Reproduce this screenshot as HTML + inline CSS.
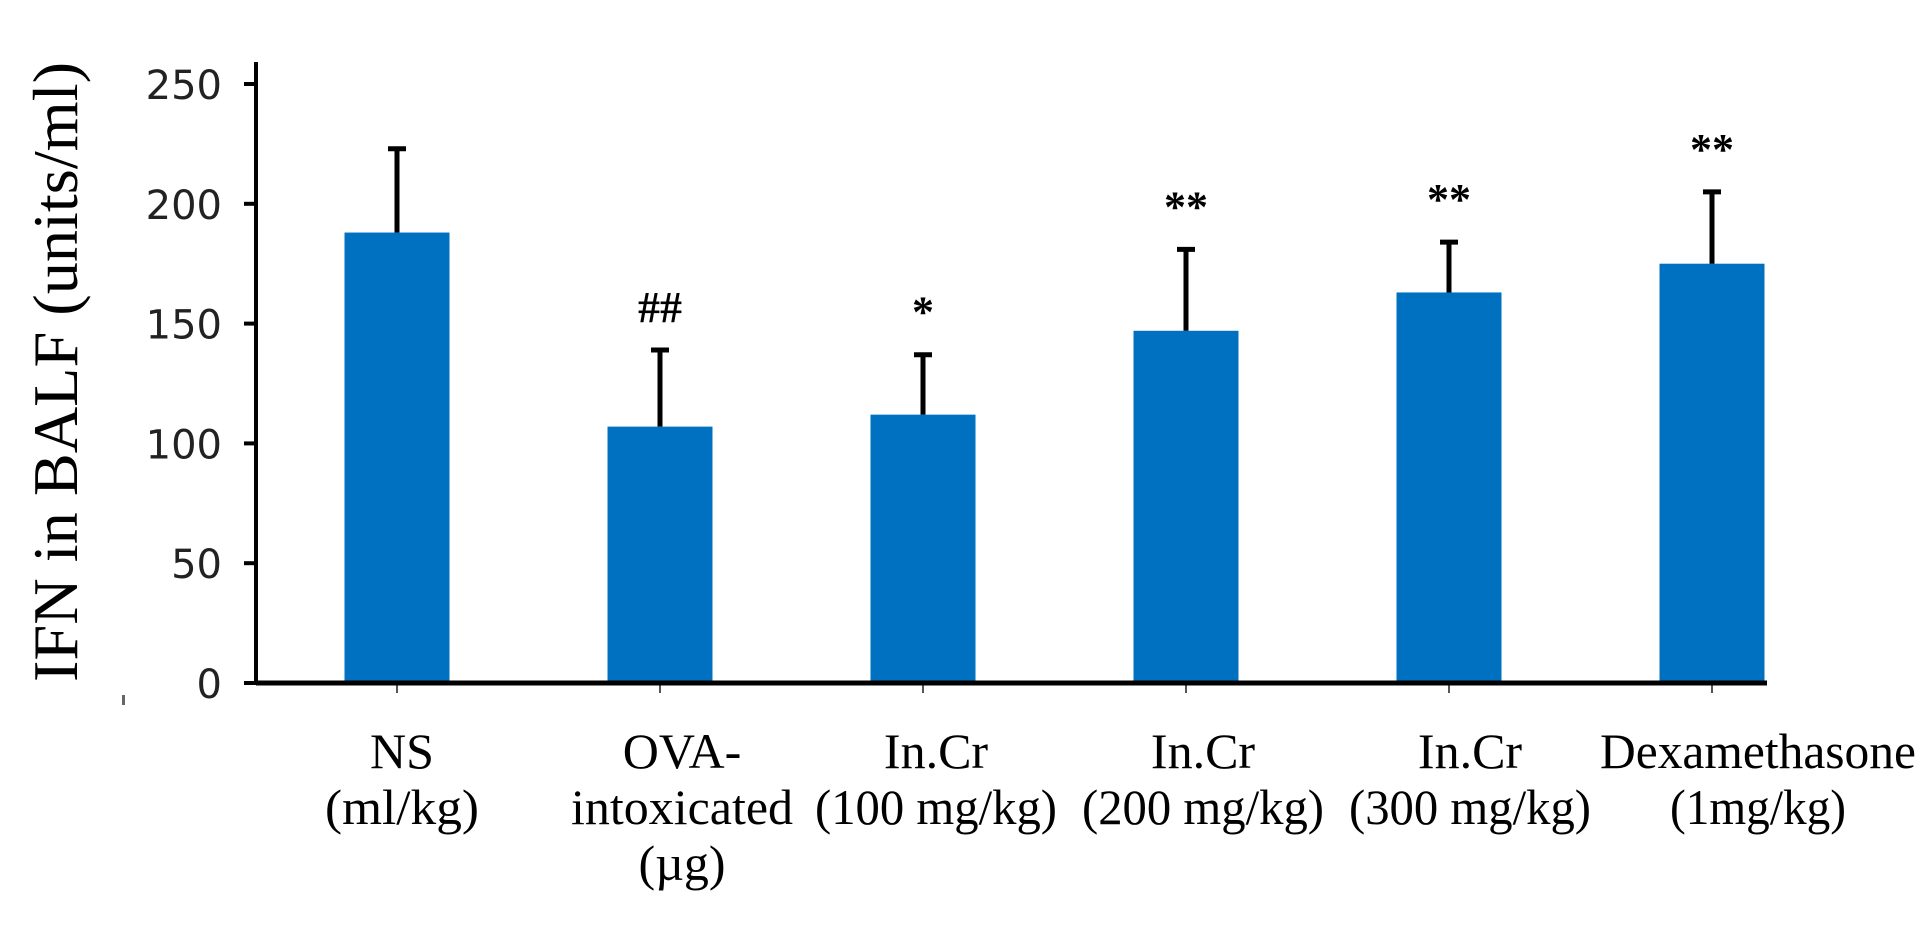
<!DOCTYPE html>
<html><head><meta charset="utf-8"><style>
html,body{margin:0;padding:0;background:#fff;}
svg{display:block;}
</style></head><body>
<svg id="chart" width="1930" height="946" xmlns="http://www.w3.org/2000/svg">
<text transform="translate(77,372) rotate(-90)" text-anchor="middle" font-family="Liberation Serif, serif" font-size="64" textLength="620" lengthAdjust="spacingAndGlyphs" fill="#000">IFN in BALF (units/ml)</text>
<rect x="122" y="695" width="3" height="10" fill="#666"/>
<g id="plot"></g>
</svg>
<script>
const categories = [["NS","(ml/kg)"],["OVA-","intoxicated","(µg)"],["In.Cr","(100 mg/kg)"],["In.Cr","(200 mg/kg)"],["In.Cr","(300 mg/kg)"],["Dexamethasone","(1mg/kg)"]];
const values = [188, 107, 112, 147, 163, 175];
const errors = [35, 32, 25, 34, 21, 30];
const annotations = ["", "##", "*", "**", "**", "**"];
const yTicks = [0, 50, 100, 150, 200, 250];

const NS = "http://www.w3.org/2000/svg";
const g = document.getElementById('plot');
const x0 = 256, x1 = 1767, y0 = 683, yTop = 84;
function yScale(v){ return y0 - (v/250)*(y0-yTop); }
const step = 263, firstCenter = 397;
function xCenter(i){ return firstCenter + i*step; }
function mk(tag, attrs){ const e=document.createElementNS(NS,tag); for(const k in attrs) e.setAttribute(k,attrs[k]); g.appendChild(e); return e; }

let ya = mk('line',{x1:x0,y1:62,x2:x0,y2:y0+2,stroke:'#000','stroke-width':4});


yTicks.forEach(t=>{
  const y=yScale(t);
  const tk=mk('line',{x1:x0-12,y1:y,x2:x0,y2:y,stroke:'#000','stroke-width':4});
  
  
  const lb=mk('text',{x:222,y:y+15,'text-anchor':'end','font-family':'DejaVu Sans, sans-serif','font-size':40,fill:'#222'});
  lb.textContent=t;
  
  
});

const bw = 105;
values.forEach((v,i)=>{
  const cx=xCenter(i);
  const b=mk('rect',{x:cx-bw/2,y:yScale(v),width:bw,height:y0-yScale(v),fill:'#0070C0'});
  
  
  const et=yScale(v+errors[i]);
  const el=mk('line',{x1:cx,y1:yScale(v),x2:cx,y2:et,stroke:'#000','stroke-width':5});
  
  
  const ec=mk('line',{x1:cx-9,y1:et,x2:cx+9,y2:et,stroke:'#000','stroke-width':5});
  
  
  if(annotations[i]){
    const a=mk('text',{x:cx,y:et-28,'text-anchor':'middle','font-family':'Liberation Serif, serif','font-size':44,'font-weight':'bold',fill:'#000'});
    a.textContent=annotations[i];
    
    
  }
  const xt=mk('line',{x1:cx,y1:y0,x2:cx,y2:y0+10,stroke:'#555','stroke-width':2});
  
  
  const lines=categories[i];
  const lx = i===5 ? 1758 : cx + (i===1?22:5+ i*4);
  lines.forEach((s,j)=>{
    const t=mk('text',{x:lx,y:768+j*56,'text-anchor':'middle','font-family':'Liberation Serif, serif','font-size':50,fill:'#000'});
    if(s.length>6){ const w = i===5 && j===0 ? 316 : (i===1&&j===1 ? 222 : Math.min(s.length*22,246)); t.setAttribute('textLength', w); t.setAttribute('lengthAdjust','spacingAndGlyphs'); }
    t.textContent=s;
    
    
  });
});

const xa=mk('line',{x1:x0,y1:y0,x2:x1,y2:y0,stroke:'#000','stroke-width':5});


</script>
</body></html>
